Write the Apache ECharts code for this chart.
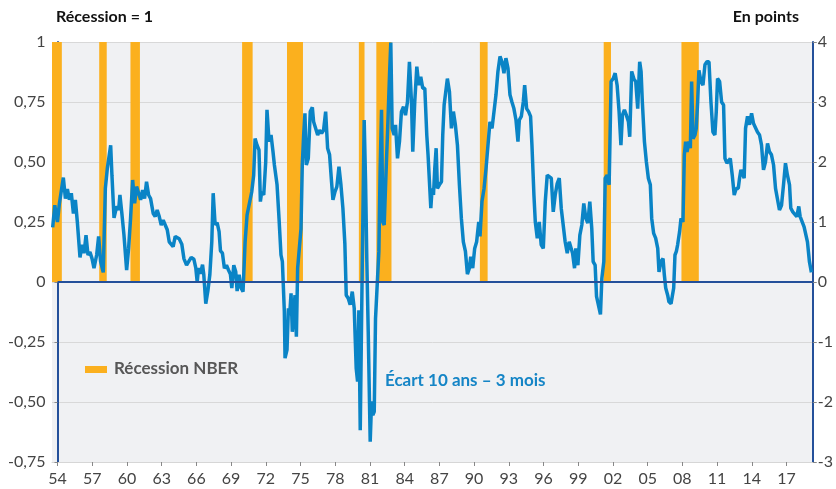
<!DOCTYPE html>
<html><head><meta charset="utf-8">
<script src="https://cdn.jsdelivr.net/npm/echarts@6/dist/echarts.min.js"></script>
<style>html,body{margin:0;padding:0;background:#fff}#c{width:836px;height:489px}</style>
</head><body><div id="c"></div>
<script>
// ---- Data ----
const recessionStarts = [1953.5, 1957.6, 1960.3, 1969.95, 1973.83, 1980.04, 1981.55, 1990.5, 2001.2, 2007.92];
const recessionEnds   = [1954.37, 1958.25, 1961.12, 1970.86, 1975.21, 1980.53, 1982.86, 1991.17, 2001.83, 2009.42];
const spreadYears = [
1953.58,1953.76,1953.99,1954.16,1954.50,1954.68,1954.85,1955.02,1955.19,1955.37,1955.54,1955.71,1955.94,1956.11,1956.29,1956.46,1956.63,1956.80,1956.98,1957.15,1957.38,1957.55,1957.72,1957.95,1958.13,1958.30,1958.59,1958.70,1958.88,1959.11,1959.28,1959.39,1959.57,1959.74,1959.97,1960.14,1960.31,1960.49,1960.66,1960.83,1961.00,1961.18,1961.35,1961.52,1961.69,1961.87,1962.04,1962.27,1962.44,1962.61,1962.79,1962.96,1963.13,1963.30,1963.48,1963.65,1963.82,1963.99,1964.17,1964.34,1964.51,1964.74,1964.92,1965.15,1965.32,1965.55,1965.78,1965.95,1966.07,1966.18,1966.35,1966.53,1966.64,1966.81,1966.99,1967.16,1967.33,1967.45,1967.62,1967.79,1967.96,1968.08,1968.25,1968.42,1968.60,1968.77,1968.94,1969.06,1969.23,1969.40,1969.52,1969.69,1969.86,1970.03,1970.21,1970.38,1970.55,1970.78,1970.95,1971.07,1971.24,1971.41,1971.53,1971.64,1971.82,1971.99,1972.10,1972.28,1972.45,1972.62,1972.74,1972.97,1973.14,1973.31,1973.43,1973.60,1973.66,1973.83,1973.95,1974.06,1974.18,1974.29,1974.41,1974.52,1974.64,1974.75,1974.92,1975.04,1975.15,1975.27,1975.38,1975.50,1975.67,1975.84,1976.02,1976.13,1976.30,1976.48,1976.65,1976.82,1976.99,1977.17,1977.34,1977.51,1977.68,1977.80,1977.97,1978.14,1978.32,1978.49,1978.66,1978.83,1978.95,1979.12,1979.29,1979.47,1979.64,1979.81,1979.93,1980.04,1980.16,1980.33,1980.50,1980.62,1980.73,1980.85,1981.02,1981.14,1981.25,1981.37,1981.48,1981.65,1981.77,1981.88,1982.00,1982.11,1982.23,1982.34,1982.52,1982.69,1982.80,1982.92,1983.09,1983.21,1983.38,1983.55,1983.72,1983.90,1984.07,1984.24,1984.41,1984.59,1984.70,1984.87,1985.05,1985.22,1985.39,1985.56,1985.74,1985.91,1986.02,1986.26,1986.37,1986.49,1986.60,1986.72,1986.83,1987.00,1987.18,1987.29,1987.41,1987.58,1987.69,1987.87,1988.04,1988.21,1988.38,1988.56,1988.73,1988.90,1989.07,1989.25,1989.42,1989.59,1989.71,1989.88,1990.05,1990.22,1990.40,1990.51,1990.68,1990.86,1991.03,1991.20,1991.37,1991.55,1991.72,1991.89,1992.06,1992.24,1992.41,1992.58,1992.75,1992.93,1993.10,1993.27,1993.44,1993.62,1993.79,1993.91,1994.08,1994.25,1994.37,1994.54,1994.71,1994.88,1995.00,1995.17,1995.29,1995.46,1995.63,1995.80,1995.98,1996.15,1996.32,1996.49,1996.67,1996.84,1997.01,1997.18,1997.36,1997.53,1997.70,1997.87,1998.05,1998.22,1998.39,1998.51,1998.68,1998.79,1998.97,1999.14,1999.31,1999.48,1999.66,1999.83,2000.00,2000.17,2000.29,2000.46,2000.58,2000.75,2000.92,2001.04,2001.21,2001.33,2001.50,2001.67,2001.84,2002.02,2002.19,2002.36,2002.53,2002.69,2002.82,2002.99,2003.16,2003.34,2003.45,2003.62,2003.80,2003.97,2004.14,2004.31,2004.43,2004.54,2004.72,2004.89,2005.06,2005.23,2005.35,2005.52,2005.69,2005.87,2005.98,2006.15,2006.33,2006.44,2006.56,2006.73,2006.84,2007.02,2007.13,2007.25,2007.36,2007.48,2007.59,2007.76,2007.88,2008.05,2008.17,2008.28,2008.40,2008.57,2008.69,2008.80,2008.92,2009.09,2009.20,2009.32,2009.43,2009.61,2009.78,2009.95,2010.12,2010.30,2010.47,2010.64,2010.81,2010.93,2011.04,2011.22,2011.39,2011.56,2011.68,2011.85,2011.96,2012.14,2012.31,2012.48,2012.65,2012.83,2012.94,2013.06,2013.23,2013.34,2013.46,2013.63,2013.80,2013.98,2014.15,2014.32,2014.49,2014.67,2014.84,2015.01,2015.18,2015.36,2015.53,2015.70,2015.88,2016.05,2016.22,2016.39,2016.57,2016.74,2016.91,2017.08,2017.26,2017.37,2017.54,2017.71,2017.89,2018.06,2018.18,2018.35,2018.52,2018.69,2018.81,2018.98,2019.15
];
const spreadValues = [
0.91,1.28,1.0,1.31,1.74,1.39,1.55,1.37,1.48,1.14,1.37,1.0,0.41,0.62,0.48,0.78,0.45,0.5,0.39,0.23,0.45,0.76,0.34,0.16,1.56,1.89,2.28,1.78,1.07,1.26,1.2,1.45,1.12,0.78,0.2,0.56,1.06,1.7,1.31,1.59,1.56,1.37,1.53,1.39,1.67,1.45,1.39,1.14,1.09,1.2,1.09,0.95,1.03,1.06,0.87,0.67,0.64,0.59,0.76,0.73,0.72,0.63,0.39,0.28,0.31,0.41,0.38,0.23,0.0,0.23,0.14,0.29,0.12,-0.36,-0.15,0.12,0.67,1.48,0.95,0.99,0.84,0.52,0.48,0.23,0.28,0.2,0.13,-0.1,0.28,0.17,-0.15,0.12,-0.1,-0.16,0.67,1.12,1.14,1.5,1.78,2.39,2.28,2.2,1.34,1.5,1.45,2.0,2.87,2.34,2.45,2.17,1.95,1.62,1.06,0.45,0.34,-0.49,-1.27,-1.13,-0.44,-0.55,-0.19,-0.83,-0.55,-0.22,-0.91,0.23,0.23,0.89,1.95,2.45,2.81,1.95,2.06,2.84,2.91,2.67,2.7,2.45,2.53,2.48,2.53,2.84,2.23,2.12,1.67,1.37,1.5,1.59,1.92,1.62,1.23,0.64,-0.22,-0.27,-0.38,-0.16,-0.44,-1.44,-1.66,-0.47,-2.47,0.23,2.7,1.67,0.34,-0.83,-2.66,-1.99,-2.22,-2.16,-0.61,-0.58,0.51,1.89,2.87,1.0,0.95,1.56,2.5,3.45,3.99,2.56,2.45,2.62,2.06,2.34,2.84,2.92,2.78,3.0,3.67,3.0,2.17,3.0,3.59,3.28,3.42,3.23,3.23,2.45,2.12,1.23,1.56,1.45,1.89,2.23,1.56,1.62,1.67,2.45,2.95,2.95,3.39,3.17,2.56,2.84,2.62,2.28,1.62,1.06,0.67,0.51,0.13,0.23,0.42,0.23,0.56,0.67,1.0,0.76,1.34,1.56,1.89,2.28,2.67,2.56,2.84,3.12,3.51,3.76,3.67,3.48,3.73,3.56,3.12,3.0,2.89,2.7,2.34,2.7,2.76,3.0,3.28,2.89,2.84,2.76,2.28,1.45,1.0,0.73,1.0,0.62,0.56,1.34,1.78,1.81,1.73,1.17,1.45,1.64,1.73,1.23,1.26,0.67,0.48,0.67,0.56,0.48,0.23,0.56,0.28,0.78,0.95,1.31,1.06,0.98,1.34,0.89,0.34,0.28,-0.24,-0.27,-0.54,0.06,0.34,1.73,1.78,1.62,3.34,3.39,3.48,3.28,2.84,2.28,2.78,2.87,2.78,2.67,2.42,3.51,3.39,3.34,2.89,3.67,3.51,3.0,2.34,2.0,1.73,1.62,1.06,0.81,0.73,0.56,0.17,0.34,0.39,0.12,-0.1,-0.22,-0.33,-0.36,-0.38,-0.1,0.45,0.51,0.62,0.84,1.06,1.0,2.12,2.34,2.17,2.34,2.23,3.34,2.39,2.45,2.56,3.0,3.53,3.34,3.28,3.62,3.67,3.67,3.0,2.5,2.45,2.84,3.39,3.34,3.0,2.95,2.06,1.98,1.95,2.06,1.78,1.45,1.56,1.56,1.73,1.87,1.87,1.73,2.56,2.76,2.62,2.81,2.64,2.64,2.5,2.45,2.28,1.87,2.0,2.31,2.17,2.12,1.95,1.56,1.56,1.2,1.28,1.62,1.98,1.78,1.62,1.23,1.17,1.2,1.09,1.26,1.09,1.12,0.92,0.89,0.67,0.34,0.16
];
const xTickYears = [1954,1957,1960,1963,1966,1969,1972,1975,1978,1981,1984,1987,1990,1993,1996,1999,2002,2005,2008,2011,2014,2017];
const leftTickLabels = {'1':'1','0.75':'0,75','0.5':'0,50','0.25':'0,25','0':'0','-0.25':'-0,25','-0.5':'-0,50','-0.75':'-0,75'};

const FONT = 'Lato';
const chart = echarts.init(document.getElementById('c'), null, {renderer:'canvas'});
const lineData = spreadYears.map((y,i)=>[y, spreadValues[i]]);
const recData = recessionStarts.map((s,i)=>[s, recessionEnds[i], 1]);
const AXIS_BLUE = '#24509a';

chart.setOption({
  animation:false,
  textStyle:{fontFamily:FONT},
  grid:{left:52,right:22,top:42,bottom:27,show:true,backgroundColor:'#f0f1f3',borderWidth:0},
  xAxis:{
    type:'value', min:1953.52, max:2019.27,
    splitLine:{show:false},
    axisLine:{show:true,onZero:false,lineStyle:{color:'#d6d6d6',width:1}},
    axisTick:{show:true,customValues:xTickYears,length:4,lineStyle:{color:'#888'}},
    axisLabel:{customValues:xTickYears,color:'#444',fontSize:16,fontFamily:FONT,margin:9,
      formatter:v=>String(Math.round(v)%100).padStart(2,'0')}
  },
  yAxis:[
    {type:'value',position:'left',min:-0.75,max:1,interval:0.25,offset:-5.5,
     axisLine:{show:true,lineStyle:{color:AXIS_BLUE,width:2}},
     axisTick:{show:true,length:3,lineStyle:{color:'#888'}},
     axisLabel:{color:'#444',fontSize:16,fontFamily:FONT,margin:12,
       formatter:v=>leftTickLabels[String(Math.round(v*100)/100)]||String(v)},
     splitLine:{show:true,lineStyle:{color:'#d8d8d8',width:1}}},
    {type:'value',position:'right',min:-3,max:4,interval:1,
     axisLine:{show:true,lineStyle:{color:AXIS_BLUE,width:2}},
     axisTick:{show:true,length:4,lineStyle:{color:'#888'}},
     axisLabel:{color:'#444',fontSize:16,fontFamily:FONT,margin:5},
     splitLine:{show:false}}
  ],
  series:[
    {type:'custom',name:'Récession NBER',yAxisIndex:0,clip:true,z:1,
     data:recData,
     encode:{x:[0,1],y:2},
     renderItem:(params,api)=>{
       const p0=api.coord([api.value(0),api.value(2)]);
       const p1=api.coord([api.value(1),0]);
       return {type:'rect',shape:{x:p0[0],y:p0[1],width:p1[0]-p0[0],height:p1[1]-p0[1]},
         style:{fill:'#fbb01e'}};
     },
     markLine:{silent:true,symbol:'none',label:{show:false},
       lineStyle:{color:AXIS_BLUE,width:2,type:'solid'},
       data:[[{coord:[1954,0]},{coord:[2019.27,0]}]]}
    },
    {type:'line',name:'Écart 10 ans – 3 mois',yAxisIndex:1,z:3,
     data:lineData,showSymbol:false,symbol:'none',
     lineStyle:{color:'#0a84c6',width:3.5},itemStyle:{color:'#0a84c6'}}
  ],
  graphic:[
    {type:'text',left:56,top:9,style:{text:'Récession = 1',font:'bold 16px '+FONT,fill:'#111'}},
    {type:'text',right:37,top:9,style:{text:'En points',font:'bold 16px '+FONT,fill:'#111'}},
    {type:'rect',shape:{x:85,y:366,width:22,height:7},style:{fill:'#fbb01e'}},
    {type:'text',x:114,y:369,style:{text:'Récession NBER',font:'bold 17px '+FONT,fill:'#575757',verticalAlign:'middle'}},
    {type:'text',x:385,y:381,style:{text:'Écart 10 ans – 3 mois',font:'bold 17px '+FONT,fill:'#1585c6',verticalAlign:'middle'}}
  ]
});
</script></body></html>
